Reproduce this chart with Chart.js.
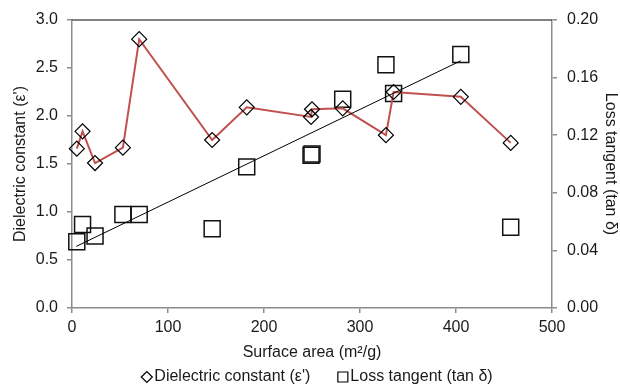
<!DOCTYPE html>
<html>
<head>
<meta charset="utf-8">
<script src="https://cdn.jsdelivr.net/npm/chart.js@4.4.0/dist/chart.umd.min.js"></script>
<style>
  html, body { margin: 0; padding: 0; background: #fff; }
  #wrap { width: 620px; height: 385px; }
</style>
</head>
<body>
<div id="wrap"><canvas id="chart" width="620" height="385"></canvas></div>
<script>
// ── Data ──
// surface area of each sample (m2/g)
const surfaceArea = [5, 11, 24, 53, 70, 146, 182, 249, 250, 282, 327, 335, 405, 457];
const dielectric  = [1.66, 1.84, 1.51, 1.67, 2.80, 1.75, 2.09, 1.99, 2.07, 2.08, 1.80, 2.25, 2.20, 1.72];
const lossTangent = [0.046, 0.058, 0.050, 0.065, 0.065, 0.055, 0.098, 0.106, 0.107, 0.145, 0.169, 0.149, 0.176, 0.056];

// linear trend of the loss tangent
const trendX = [4.5, 405];
const trendY = [0.0428, 0.1717];

// axis ticks
const xTicks   = [0, 100, 200, 300, 400, 500];
const epsTicks = [0, 0.5, 1.0, 1.5, 2.0, 2.5, 3.0];
const tanTicks = [0, 0.04, 0.08, 0.12, 0.16, 0.20];

const FONT   = "'Liberation Sans', Arial, sans-serif";
const C_TEXT = "#1a1a1a";
const C_AXIS = "#8c8c8c";
const C_RED  = "#c0504d";

const toPoints = (xs, ys) => xs.map((x, i) => ({ x, y: ys[i] }));
const fixTicks = (list) => (scale) => { scale.ticks = list.map((v) => ({ value: v })); };

// ── Plot frame: dark top edge ──
const topEdge = {
  id: "topEdge",
  beforeDatasetsDraw(chart) {
    const { ctx, chartArea: a } = chart;
    ctx.save();
    ctx.strokeStyle = "#595959";
    ctx.lineWidth = 1.5;
    ctx.beginPath();
    ctx.moveTo(a.left, a.top);
    ctx.lineTo(a.right, a.top);
    ctx.stroke();
    ctx.restore();
  },
};

// ── Legend row under the x title (marker + label, centred) ──
const legendRow = {
  id: "legendRow",
  afterDraw(chart) {
    const ctx = chart.ctx;
    const items = chart.data.datasets.filter((d) => d.inLegend);
    const y = 377, gap = 2, spacing = 27, mark = 11;
    ctx.save();
    ctx.font = "16px " + FONT;
    ctx.textBaseline = "middle";
    ctx.fillStyle = C_TEXT;
    const widths = items.map((d) => mark + gap + ctx.measureText(d.label).width);
    const total = widths.reduce((a, b) => a + b, 0) + spacing * (items.length - 1);
    let x = (chart.width - total) / 2 + 7;
    items.forEach((d, i) => {
      const cx = x + mark / 2;
      ctx.strokeStyle = "#000";
      ctx.lineWidth = 1.2;
      ctx.beginPath();
      if (d.pointStyle === "rectRot") {
        ctx.moveTo(cx - 5.5, y);
        ctx.lineTo(cx, y - 5.5);
        ctx.lineTo(cx + 5.5, y);
        ctx.lineTo(cx, y + 5.5);
        ctx.closePath();
      } else {
        ctx.rect(cx - 5, y - 5, 10, 10);
      }
      ctx.stroke();
      ctx.fillText(d.label, x + mark + gap, y);
      x += widths[i] + spacing;
    });
    ctx.restore();
  },
};

new Chart(document.getElementById("chart"), {
  type: "scatter",
  data: {
    datasets: [
      {
        label: "Loss tangent trend",
        data: toPoints(trendX, trendY),
        yAxisID: "y2",
        showLine: true,
        borderColor: "#000",
        borderWidth: 1,
        pointRadius: 0,
        inLegend: false,
      },
      {
        label: "Dielectric constant (ε')",
        data: toPoints(surfaceArea, dielectric),
        yAxisID: "y",
        showLine: true,
        clip: false,
        borderColor: C_RED,
        borderWidth: 2,
        pointStyle: "rectRot",
        pointRadius: 7.5,
        pointBorderColor: "#000",
        pointBorderWidth: 1.2,
        pointBackgroundColor: "rgba(0,0,0,0)",
        inLegend: true,
      },
      {
        label: "Loss tangent (tan δ)",
        data: toPoints(surfaceArea, lossTangent),
        yAxisID: "y2",
        showLine: false,
        clip: false,
        pointStyle: "rect",
        pointRadius: 11.3,
        pointBorderColor: "#111",
        pointBorderWidth: 1.5,
        pointBackgroundColor: "rgba(0,0,0,0)",
        inLegend: true,
      },
    ],
  },
  options: {
    responsive: false,
    animation: false,
    layout: { padding: { top: 20, left: 0, right: 0, bottom: 0 } },
    plugins: {
      legend: { display: false },
      tooltip: { enabled: false },
    },
    scales: {
      x: {
        type: "linear",
        min: 0,
        max: 500,
        afterBuildTicks: fixTicks(xTicks),
        afterFit: (s) => { s.height = 77; },
        border: { display: true, color: C_AXIS, width: 1.5 },
        grid: { drawOnChartArea: false, drawTicks: true, tickLength: 5, color: C_AXIS, lineWidth: 1.5 },
        ticks: { color: C_TEXT, padding: 5, font: { family: FONT, size: 16 } },
        title: {
          display: true,
          text: "Surface area (m²/g)",
          color: C_TEXT,
          padding: { top: 0, bottom: 23 },
          font: { family: FONT, size: 16 },
        },
      },
      y: {
        position: "left",
        min: 0,
        max: 3,
        afterBuildTicks: fixTicks(epsTicks),
        afterFit: (s) => { s.width = 72; },
        border: { display: true, color: C_AXIS, width: 1.5 },
        grid: { drawOnChartArea: false, drawTicks: true, tickLength: 5, color: C_AXIS, lineWidth: 1.5 },
        ticks: {
          color: C_TEXT,
          padding: 9,
          font: { family: FONT, size: 16 },
          callback: (v) => v.toFixed(1),
        },
        title: {
          display: true,
          text: "Dielectric constant (ε')",
          color: C_TEXT,
          padding: { top: 11, bottom: 0 },
          font: { family: FONT, size: 16 },
        },
      },
      y2: {
        position: "right",
        min: 0,
        max: 0.2,
        afterBuildTicks: fixTicks(tanTicks),
        afterFit: (s) => { s.width = 68; },
        border: { display: true, color: C_AXIS, width: 1.5 },
        grid: { drawOnChartArea: false, drawTicks: true, tickLength: 5, color: C_AXIS, lineWidth: 1.5 },
        ticks: {
          color: C_TEXT,
          padding: 10,
          font: { family: FONT, size: 16 },
          callback: (v) => v.toFixed(2),
        },
        title: {
          display: true,
          text: "Loss tangent (tan δ)",
          color: C_TEXT,
          padding: { top: 0, bottom: 0 },
          font: { family: FONT, size: 16 },
        },
      },
    },
  },
  plugins: [topEdge, legendRow],
});
</script>
</body>
</html>
